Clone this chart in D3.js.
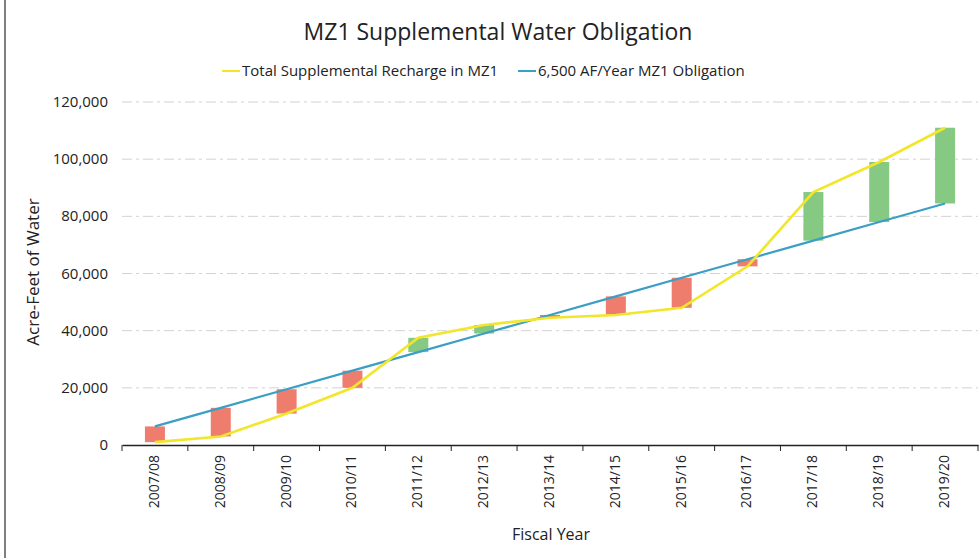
<!DOCTYPE html>
<html>
<head>
<meta charset="utf-8">
<script src="https://cdn.jsdelivr.net/npm/d3@7"></script>
<style>
body{margin:0;background:#fff;}
text{font-family:"Open Sans",Lato,sans-serif;fill:#222;}
.grid line{stroke:#d2d2d2;stroke-dasharray:10,4,3,4;}
</style>
</head>
<body>
<div id="viz"></div>
<script>
var years=["2007/08","2008/09","2009/10","2010/11","2011/12","2012/13","2013/14","2014/15","2015/16","2016/17","2017/18","2018/19","2019/20"];
var recharge=[1000,3000,11000,20000,37500,42000,44500,45500,48000,62500,88500,99000,111000];
var obligation=[6500,13000,19500,26000,32500,39000,45500,52000,58500,65000,71500,78000,84500];
var yTicks=[0,20000,40000,60000,80000,100000,120000];

var width=980, height=558;
var svg=d3.select("#viz").append("svg")
  .attr("width",width).attr("height",height);

// scanned page border on the left
svg.append("line").attr("x1",5).attr("x2",5).attr("y1",0).attr("y2",height)
  .attr("stroke","#555").attr("stroke-width",1.5);

var x=d3.scaleBand().domain(years).range([122,978]);
var y=d3.scaleLinear().domain([0,120000]).range([445,102]);

// gridlines
svg.append("g").attr("class","grid")
  .selectAll("line").data(yTicks.slice(1)).enter().append("line")
  .attr("x1",122).attr("x2",978)
  .attr("y1",function(d){return y(d);}).attr("y2",function(d){return y(d);});

// y tick labels
svg.append("g").selectAll("text").data(yTicks).enter().append("text")
  .attr("x",108).attr("y",function(d){return y(d)+5;})
  .attr("text-anchor","end").style("font-size","15px")
  .text(function(d){return d3.format(",")(d);});

// floating bars
var rows=years.map(function(d,i){return {year:d,r:recharge[i],o:obligation[i]};});
svg.append("g").selectAll("rect").data(rows).enter().append("rect")
  .attr("x",function(d){return x(d.year)+x.bandwidth()/2-10;})
  .attr("width",20)
  .attr("y",function(d){return y(Math.max(d.r,d.o));})
  .attr("height",function(d){return Math.abs(y(d.r)-y(d.o));})
  .attr("fill",function(d){return d.r>=d.o?"#86c982":"#ee7d6e";});

// lines
var line=d3.line()
  .x(function(d,i){return x(years[i])+x.bandwidth()/2;})
  .y(function(d){return y(d);});
svg.append("path").datum(obligation).attr("d",line)
  .attr("fill","none").attr("stroke","#3b9fc4").attr("stroke-width",2.2);
svg.append("path").datum(recharge).attr("d",line)
  .attr("fill","none").attr("stroke","#f2e62a").attr("stroke-width",2.6);

// x axis
var xAxis=d3.axisBottom(x).tickSize(0).tickPadding(10);
var gx=svg.append("g").attr("transform","translate(0,445)").call(xAxis);
gx.select(".domain").attr("stroke","#222").attr("stroke-width",1.3);
gx.selectAll("text")
  .attr("transform","rotate(-90)")
  .attr("x",-10).attr("y",-1).attr("dy","0.35em")
  .style("text-anchor","end").style("font-size","14px")
  .style("font-family","'Open Sans',Lato,sans-serif").attr("fill","#222");
// category boundary ticks
svg.append("g").selectAll("line").data(years.concat(["end"])).enter().append("line")
  .attr("x1",function(d,i){return 122+i*x.step();})
  .attr("x2",function(d,i){return 122+i*x.step();})
  .attr("y1",445).attr("y2",451).attr("stroke","#222");

// titles
svg.append("text").attr("x",498).attr("y",40).attr("text-anchor","middle")
  .style("font-size","23px").text("MZ1 Supplemental Water Obligation");
svg.append("text").attr("x",551).attr("y",540).attr("text-anchor","middle")
  .style("font-size","16px").text("Fiscal Year");
svg.append("text").attr("transform","translate(39,272) rotate(-90)")
  .attr("text-anchor","middle").style("font-size","17px").text("Acre-Feet of Water");

// legend
var legend=[{name:"Total Supplemental Recharge in MZ1",color:"#f2e62a",x:222},
            {name:"6,500 AF/Year MZ1 Obligation",color:"#3b9fc4",x:518}];
var lg=svg.append("g").selectAll("g").data(legend).enter().append("g");
lg.append("line").attr("x1",function(d){return d.x;}).attr("x2",function(d){return d.x+18;})
  .attr("y1",71).attr("y2",71).attr("stroke",function(d){return d.color;}).attr("stroke-width",2);
lg.append("text").attr("x",function(d){return d.x+20;}).attr("y",76)
  .style("font-size","15px").text(function(d){return d.name;});
</script>
</body>
</html>
